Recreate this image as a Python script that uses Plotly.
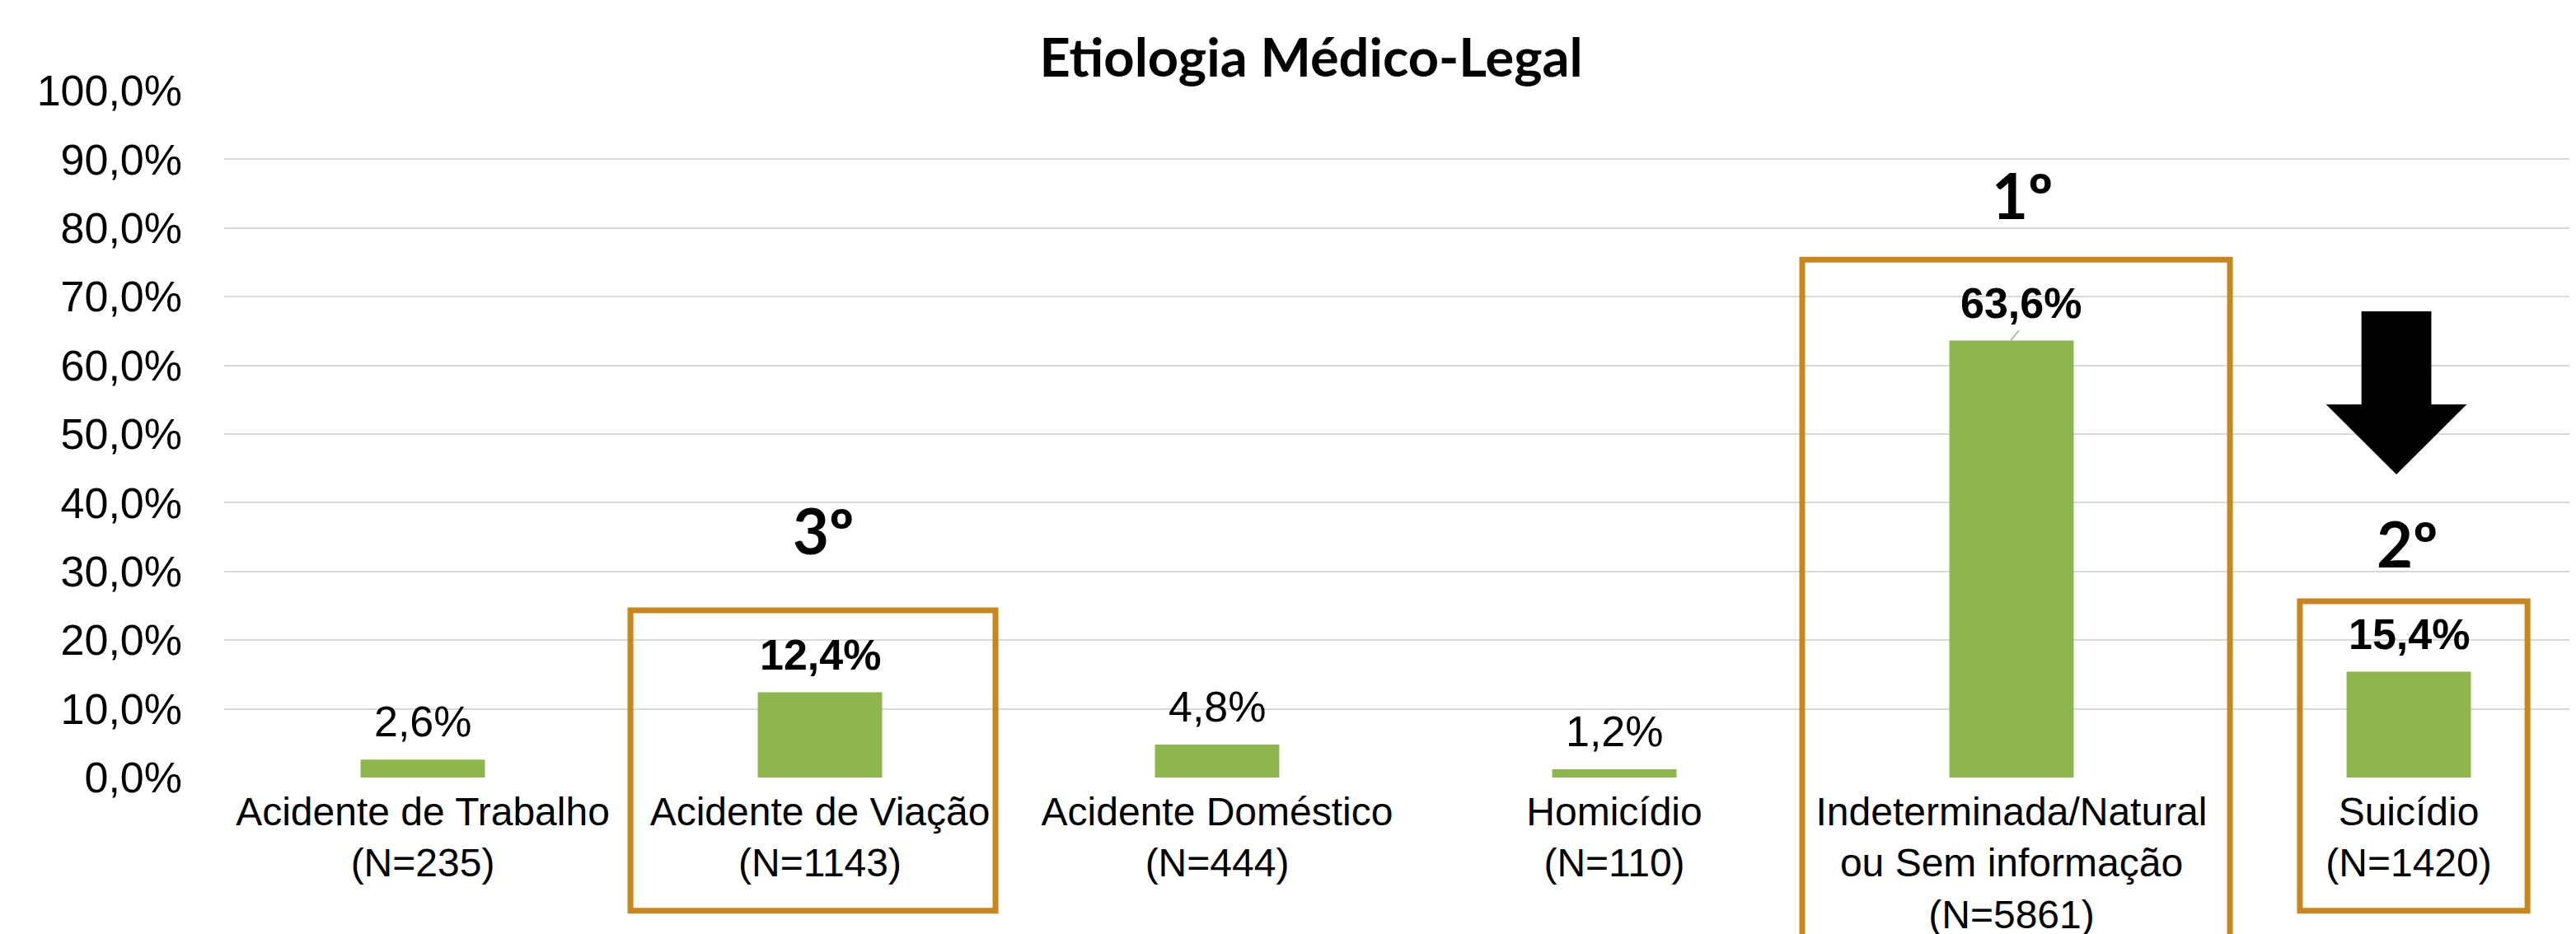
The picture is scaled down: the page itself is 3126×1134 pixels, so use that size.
import plotly.graph_objects as go

# ---- data ----
categories = ["Acidente de Trabalho", "Acidente de Viação", "Acidente Doméstico",
              "Homicídio", "Indeterminada/Natural<br>ou Sem informação", "Suicídio"]
n_values = [235, 1143, 444, 110, 5861, 1420]
percentages = [2.6, 12.4, 4.8, 1.2, 63.6, 15.4]
highlight = [False, True, False, False, True, True]
ranks = ["", "3º", "", "", "1º", "2º"]
y_ticks = [0.0, 0.1, 0.2, 0.3, 0.4, 0.5, 0.6, 0.7, 0.8, 0.9, 1.0]

# ---- style ----
GREEN = "#8DB64C"
BOX = "#C9861F"
GRID = "#D9D9D9"
ARIAL = "Liberation Sans, Arial, sans-serif"
TITLE_FONT = "Lato, DejaVu Sans, sans-serif"

xpos = list(range(len(categories)))
values = [p / 100 for p in percentages]
ticktext = [f"{c}<br>(N={n})" for c, n in zip(categories, n_values)]

fig = go.Figure()
fig.add_trace(go.Bar(x=xpos, y=values, width=0.313, marker=dict(color=GREEN, line=dict(width=0)),
                     hoverinfo="skip"))

# data labels
for i, (v, p, h) in enumerate(zip(values, percentages, highlight)):
    txt = f"{p:.1f}%".replace(".", ",")
    if h:
        txt = f"<b>{txt}</b>"
    fig.add_annotation(x=i, y=v, xref="x", yref="y", text=txt, showarrow=False,
                       yanchor="bottom", xanchor="center", yshift=15,
                       xshift=(11 if i == 4 else 0),
                       font=dict(family=ARIAL, size=52, color="black"))

# rank labels
rank_y = {1: 0.3585, 4: 0.8465, 5: 0.339}
rank_dx = {1: 0.01, 4: 0.027, 5: -0.004}
for i, r in enumerate(ranks):
    if r:
        fig.add_annotation(x=i + rank_dx[i], y=rank_y[i], xref="x", yref="paper", text=f"<b>{r}</b>",
                           showarrow=False, xanchor="center", yanchor="middle", yshift=2,
                           font=dict(family=TITLE_FONT, size=76, color="black"))

# highlight boxes
boxes = {1: (0.523, 1.442, -0.194, 0.2434), 4: (3.473, 4.550, -0.30, 0.754), 5: (4.726, 5.299, -0.194, 0.2566)}
for i, (x0, x1, y0, y1) in boxes.items():
    fig.add_shape(type="rect", xref="x", yref="paper", x0=x0, x1=x1, y0=y0, y1=y1,
                  line=dict(color=BOX, width=7), fillcolor="rgba(0,0,0,0)", layer="above")

# arrow above Suicídio
cx = 4.969
sw, hw = 0.088, 0.177
yt, yh, ytip = 0.6787, 0.5432, 0.4412
path = (f"M {cx-sw},{yt} L {cx+sw},{yt} L {cx+sw},{yh} L {cx+hw},{yh} L {cx},{ytip} "
        f"L {cx-hw},{yh} L {cx-sw},{yh} Z")
fig.add_shape(type="path", xref="x", yref="paper", path=path, fillcolor="black",
              line=dict(color="black", width=0), layer="above")

# leader line for 63,6%
fig.add_shape(type="line", xref="x", yref="y", x0=4.0187, y0=0.651, x1=3.998, y1=0.636,
              line=dict(color="#A6A6A6", width=1.5))

fig.update_layout(
    width=3126, height=1134,
    margin=dict(l=264, r=0, t=102, b=198),
    plot_bgcolor="white", paper_bgcolor="white",
    separators=",.",
    showlegend=False,
    title=dict(text="<b>Etiologia Médico-Legal</b>", x=1583 / 3126, xanchor="center",
               y=1 - 62 / 1134, yanchor="middle", yref="container",
               font=dict(family=TITLE_FONT, size=65, color="black")),
    bargap=0.687,
)
fig.update_xaxes(range=[-0.5, -0.5 + 2862 / 482], tickvals=xpos, ticktext=ticktext,
                 showgrid=False, zeroline=False, showline=False, ticks="",
                 tickfont=dict(family=ARIAL, size=48, color="black"), ticklabelstandoff=9)
fig.update_yaxes(range=[0, 1.0], tickvals=y_ticks, tickformat=".1%",
                 showgrid=True, gridcolor=GRID, gridwidth=2, zeroline=False, showline=False,
                 ticks="", tickfont=dict(family=ARIAL, size=52, color="black"),
                 ticklabelstandoff=50)

fig.write_html("out.html")
